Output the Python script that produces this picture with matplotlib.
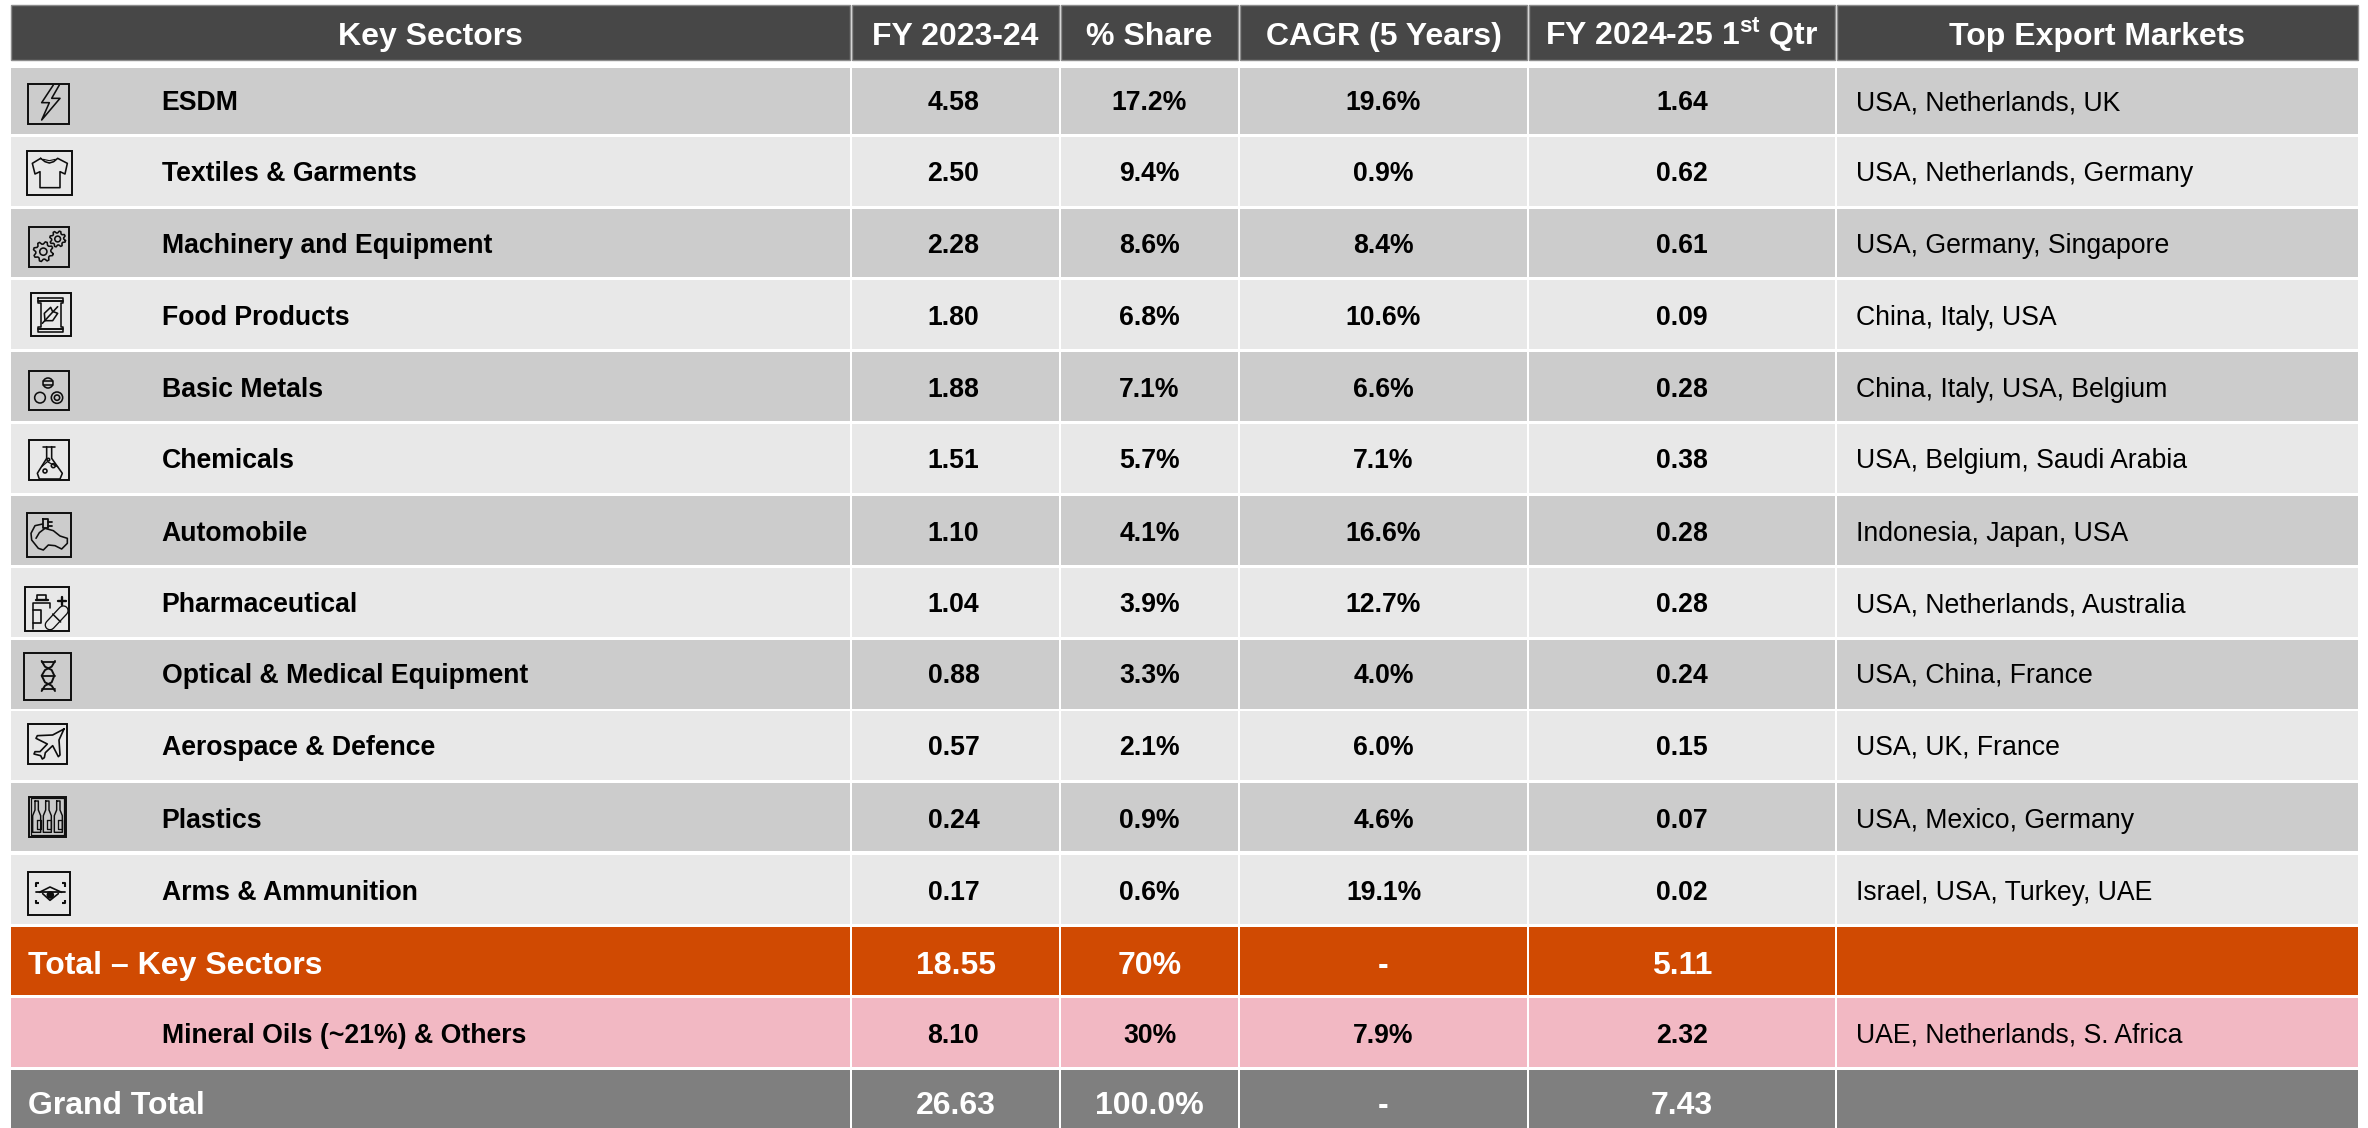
import numpy as np
import matplotlib
matplotlib.use("Agg")
import matplotlib.pyplot as plt
from matplotlib.patches import Rectangle, Ellipse

plt.rcParams['font.family'] = ['Liberation Sans', 'DejaVu Sans']
plt.rcParams['mathtext.fontset'] = 'custom'
plt.rcParams['mathtext.bf'] = 'Liberation Sans:bold'
plt.rcParams['mathtext.rm'] = 'Liberation Sans'

# ---------- data ----------
headers = ["Key Sectors", "FY 2023-24", "% Share", "CAGR (5 Years)",
           "FY 2024-25 1$^{\\mathbf{st}}$ Qtr", "Top Export Markets"]
sectors = ["ESDM", "Textiles & Garments", "Machinery and Equipment", "Food Products",
           "Basic Metals", "Chemicals", "Automobile", "Pharmaceutical",
           "Optical & Medical Equipment", "Aerospace & Defence", "Plastics", "Arms & Ammunition"]
fy2324 = ["4.58", "2.50", "2.28", "1.80", "1.88", "1.51", "1.10", "1.04", "0.88", "0.57", "0.24", "0.17"]
share = ["17.2%", "9.4%", "8.6%", "6.8%", "7.1%", "5.7%", "4.1%", "3.9%", "3.3%", "2.1%", "0.9%", "0.6%"]
cagr = ["19.6%", "0.9%", "8.4%", "10.6%", "6.6%", "7.1%", "16.6%", "12.7%", "4.0%", "6.0%", "4.6%", "19.1%"]
q1 = ["1.64", "0.62", "0.61", "0.09", "0.28", "0.38", "0.28", "0.28", "0.24", "0.15", "0.07", "0.02"]
markets = ["USA, Netherlands, UK", "USA, Netherlands, Germany", "USA, Germany, Singapore",
           "China, Italy, USA", "China, Italy, USA, Belgium", "USA, Belgium, Saudi Arabia",
           "Indonesia, Japan, USA", "USA, Netherlands, Australia", "USA, China, France",
           "USA, UK, France", "USA, Mexico, Germany", "Israel, USA, Turkey, UAE"]
total_row = ["Total – Key Sectors", "18.55", "70%", "-", "5.11", ""]
other_row = ["Mineral Oils (~21%) & Others", "8.10", "30%", "7.9%", "2.32", "UAE, Netherlands, S. Africa"]
grand_row = ["Grand Total", "26.63", "100.0%", "-", "7.43", ""]

# ---------- layout (pixels) ----------
W, H = 2368, 1128
col_x = [10.5, 851, 1060, 1239, 1528, 1836, 2358]
row_top = [67.7, 136.7, 209, 280, 352, 424, 496, 568, 640, 711, 783, 855, 926.7, 998.3, 1070]
row_bot = [134, 206, 277, 349, 421, 493, 565, 637, 709, 780, 851, 924.3, 995.3, 1067, 1128]
base = [110, 181, 253, 325, 397, 468, 541, 612, 683, 755, 828, 900]
boxes = [(28.3, 69, 84, 124.3), (27.3, 71.7, 150.7, 194.7), (29, 69.3, 226.7, 266.7),
         (30.7, 70.7, 292.7, 336.3), (28.7, 68.7, 370.7, 410.3), (29, 69.3, 440, 480),
         (26.7, 71, 513.3, 557.3), (25, 69.3, 586.7, 630.7), (23.7, 71, 652.7, 700),
         (27.7, 67.3, 724.3, 763.7), (29.3, 65.7, 796.7, 836.7), (27.7, 70.3, 871.7, 915)]

C_HEAD, C_DARK, C_LIGHT, C_ORANGE, C_PINK, C_GREY = "#474747", "#CCCCCC", "#E8E8E8", "#D04A02", "#F2B8C3", "#7F7F7F"
INK = "#0E0E0E"
PX = 0.72


def fs(px):
    return px * PX


fig = plt.figure(figsize=(W / 100, H / 100), dpi=100, facecolor="white")
ax = fig.add_axes([0, 0, 1, 1])
ax.set_xlim(0, W)
ax.set_ylim(H, 0)
ax.axis("off")


def cell(i, y0, y1, color, edge=None):
    x0 = col_x[i] + (1 if i else 0)
    x1 = col_x[i + 1] - 1 if i < 5 else col_x[i + 1]
    ax.add_patch(Rectangle((x0, y0), x1 - x0, y1 - y0, facecolor=color,
                           edgecolor=edge or "none", linewidth=1.0 if edge else 0))


def row_text(vals, y, px, color, first_x, shift=0.0):
    ax.text(first_x, y, vals[0], fontsize=fs(px), fontweight="bold", color=color, ha="left", va="baseline")
    for i in range(1, 5):
        dx = shift if i == 1 else 0
        ax.text((col_x[i] + col_x[i + 1]) / 2 + dx, y, vals[i], fontsize=fs(px), fontweight="bold",
                color=color, ha="center", va="baseline")
    if vals[5]:
        ax.text(1856, y, vals[5], fontsize=fs(26.6), color=color, ha="left", va="baseline")


# header
for i in range(6):
    cell(i, 4.5, 60, C_HEAD, edge="#8C8C8C")
ax.text(430, 45, headers[0], fontsize=fs(32), fontweight="bold", color="white", ha="center", va="baseline")
for i in range(1, 6):
    ax.text((col_x[i] + col_x[i + 1]) / 2, 45, headers[i], fontsize=fs(32), fontweight="bold",
            color="white", ha="center", va="baseline")

# body
for r in range(12):
    c = C_DARK if r % 2 == 0 else C_LIGHT
    for i in range(6):
        cell(i, row_top[r], row_bot[r], c)
    row_text([sectors[r], fy2324[r], share[r], cagr[r], q1[r], markets[r]], base[r], 26.6, "black", 161.5, shift=-2)

# summary rows
for i in range(6):
    cell(i, row_top[12], row_bot[12], C_ORANGE)
    cell(i, row_top[13], row_bot[13], C_PINK)
    cell(i, row_top[14], row_bot[14], C_GREY)
row_text(total_row, 974, 32, "white", 28.5)
row_text(other_row, 1043, 26.6, "black", 161.5, shift=-2)
row_text(grand_row, 1114.5, 32, "white", 28.5)


# ---------- icons: outlines given in 3x crop pixels around each row group ----------
def stroke(o, pts, lw=1.15, closed=False, color=INK, cap="round"):
    xy = [(o[0] + a / 3, o[1] + b / 3) for a, b in pts]
    if closed:
        xy.append(xy[0])
    ax.plot([a for a, _ in xy], [b for _, b in xy], color=color, lw=lw, solid_capstyle=cap, solid_joinstyle="round")


def ring(o, a, b, r, lw=1.15, fill=False):
    ax.add_patch(Ellipse((o[0] + a / 3, o[1] + b / 3), 2 * r / 3, 2 * r / 3, fill=fill, facecolor=INK,
                         edgecolor=INK, linewidth=lw))


def gear(o, a, b, r, teeth=8):
    th = np.linspace(0, 2 * np.pi, teeth * 4, endpoint=False)
    rad = np.where((np.arange(teeth * 4) % 4) < 2, r, r * 0.76)
    stroke(o, list(zip(a + rad * np.cos(th + .2), b + rad * np.sin(th + .2))), closed=True)
    ring(o, a, b, r * 0.36)


for b in boxes:
    ax.add_patch(Rectangle((b[0], b[2]), b[1] - b[0], b[3] - b[2], fill=False, edgecolor=INK, linewidth=1.4))

A = (10, 70)
stroke(A, [(130, 45), (95, 98), (118, 98), (95, 150), (150, 85), (125, 85), (148, 45)])
stroke(A, [(92, 265), (67, 280), (75, 312), (90, 305), (90, 353), (150, 353), (150, 305), (165, 312),
           (172, 280), (143, 265), (131, 275), (118, 279), (105, 275), (92, 265)])
stroke(A, [(100, 268), (118, 272), (136, 268)], lw=.8)
gear(A, 100, 545, 30)
gear(A, 143, 507, 24)
stroke(A, [(85, 685), (158, 685), (158, 700), (152, 700), (152, 770), (158, 770), (158, 785), (85, 785),
           (85, 770), (92, 770), (92, 700), (85, 700)], closed=True)
stroke(A, [(85, 692), (158, 692)], lw=1.4)
stroke(A, [(85, 778), (158, 778)], lw=1.4)
stroke(A, [(97, 760), (143, 710)])
stroke(A, [(105, 752), (103, 730), (122, 712), (128, 725)])
stroke(A, [(105, 752), (128, 752), (143, 730), (130, 725)])

B = (10, 360)
ring(B, 114, 69, 15)
stroke(B, [(100, 64), (128, 64)])
stroke(B, [(100, 74), (128, 74)])
ring(B, 90, 113, 16)
ring(B, 141, 113, 17)
ring(B, 141, 113, 8)
stroke(B, [(100, 260), (135, 260)])
stroke(B, [(110, 260), (110, 295), (82, 340), (88, 357), (150, 357), (157, 340), (125, 295), (125, 260)])
stroke(B, [(95, 320), (112, 305), (125, 312), (143, 320)], lw=.9)
ring(B, 105, 333, 6)
ring(B, 130, 317, 6)
ring(B, 115, 299, 4)
stroke(B, [(98, 478), (113, 478), (113, 503), (98, 503)], closed=True, lw=1.3)
stroke(B, [(113, 485), (125, 485)], lw=1.3)
stroke(B, [(113, 497), (125, 497)], lw=1.3)
stroke(B, [(98, 492), (75, 497), (63, 520), (65, 540), (85, 565), (100, 570), (115, 555), (135, 557),
           (155, 567), (172, 550), (172, 535), (150, 528), (130, 512), (105, 505), (88, 518), (78, 535)])
stroke(B, [(68, 808), (68, 730), (120, 730), (120, 745)])
stroke(B, [(70, 750), (92, 750), (92, 790), (70, 790)], lw=1.2)
stroke(B, [(82, 718), (82, 705), (108, 705), (108, 718)], lw=1.2)
stroke(B, [(78, 720), (113, 720)], lw=1.7)
stroke(B, [(157, 712), (157, 736)], lw=1.7)
stroke(B, [(145, 724), (169, 724)], lw=1.7)
stroke(B, [(120, 795), (160, 752)], lw=7.8)
stroke(B, [(120, 795), (160, 752)], lw=5.9, color=C_LIGHT)
stroke(B, [(128, 762), (152, 786)], lw=1.1)

C = (10, 645)
stroke(C, [(95, 48), (105, 65), (125, 75), (133, 92), (125, 112), (105, 122), (95, 138)], lw=1.4)
stroke(C, [(135, 48), (125, 65), (105, 75), (95, 92), (105, 112), (125, 122), (135, 138)], lw=1.4)
for v in (52, 92, 133):
    stroke(C, [(96, v), (134, v)], lw=1.3)
stroke(C, [(162, 252), (128, 270), (82, 272), (78, 280), (112, 297), (90, 320), (75, 320), (72, 327),
           (92, 332), (97, 342), (103, 338), (106, 323), (128, 302), (145, 335), (150, 330), (147, 285),
           (162, 252)], lw=1.2)
stroke(C, [(62, 460), (163, 460), (163, 570), (62, 570)], closed=True, lw=.9)
for u in (80, 112, 145):
    stroke(C, [(u - 5, 468), (u + 5, 468), (u + 5, 495), (u + 12, 512), (u + 12, 562), (u - 12, 562),
               (u - 12, 512), (u - 5, 495)], closed=True, lw=1.05)
    stroke(C, [(u, 525), (u + 12, 525), (u + 12, 553), (u, 553)], closed=True, lw=.95)
for (u, v, du, dv) in [(78, 715, 1, 1), (165, 715, -1, 1), (78, 775, 1, -1), (165, 775, -1, -1)]:
    stroke(C, [(u + du * 10, v), (u, v), (u, v + dv * 10)], lw=1.5, cap="butt")
stroke(C, [(78, 742), (165, 742)], lw=1.3)
stroke(C, [(88, 742), (120, 726), (155, 742)], lw=1.2)
stroke(C, [(98, 746), (120, 766), (145, 746)], lw=1.2)
ring(C, 121, 750, 9, fill=True)

fig.savefig("out.png", dpi=100, facecolor="white")
